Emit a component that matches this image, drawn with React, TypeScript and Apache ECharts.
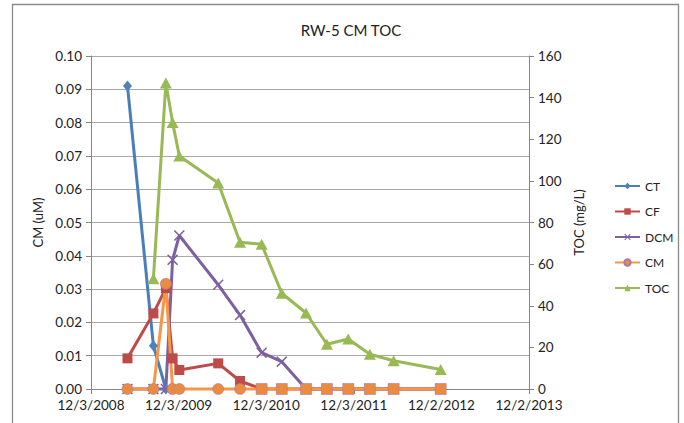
import React, { useEffect, useRef } from "react";
import * as echarts from "echarts";

// ---- data ----
const AXIS_START = "2008-12-03";
const AXIS_DAYS = 1825; // to 12/2/2013
const TICK_DAYS = 365;

const SAMPLE_DATES = [
  "2009-05-04", "2009-08-20", "2009-10-11", "2009-11-08", "2009-12-06",
  "2010-05-17", "2010-08-16", "2010-11-14", "2011-02-06", "2011-05-18",
  "2011-08-13", "2011-11-10", "2012-02-08", "2012-05-17", "2012-11-29",
];

const CT = [0.091, 0.013, 0];
const CF = [0.0092, 0.0227, 0.0303, 0.0092, 0.0057, 0.0077, 0.0024, 0, 0, 0, 0, 0, 0, 0, 0];
const DCM = [0, 0, 0, 0.0388, 0.0461, 0.0313, 0.0222, 0.0109, 0.0082, 0, 0, 0, 0, 0, 0];
const CM = [0, 0, 0.0316, 0, 0, 0, 0, 0, 0, 0, 0, 0, 0, 0, 0];
const TOC = [null, 53, 147, 128, 112, 99, 70.5, 69.5, 46, 36.5, 21.5, 24, 16.7, 13.6, 9.4];

const SERIES_NAMES = ["CT", "CF", "DCM", "CM", "TOC"];
const LEFT_TICKS = { min: 0, max: 0.1, interval: 0.01 };
const RIGHT_TICKS = { min: 0, max: 160, interval: 20 };

const DAY_MS = 86400000;
const startMs = Date.parse(AXIS_START + "T00:00:00Z");
const toDay = (iso: string) => Math.round((Date.parse(iso + "T00:00:00Z") - startMs) / DAY_MS);
const pairs = (vals: (number | null)[]) =>
  vals.map((v, i) => [toDay(SAMPLE_DATES[i]), v]).filter((p) => p[1] !== null);
const fmtDate = (days: number) => {
  const d = new Date(startMs + Math.round(days) * DAY_MS);
  return `${d.getUTCMonth() + 1}/${d.getUTCDate()}/${d.getUTCFullYear()}`;
};

const FONT = "Lato, 'Liberation Sans', sans-serif";
const XMARK = "path://M1,0L5,4L9,0L10,1L6,5L10,9L9,10L5,6L1,10L0,9L4,5L0,1Z";

export default function App() {
  const ref = useRef<HTMLDivElement>(null);
  useEffect(() => {
    if (!ref.current) return;
    const chart = echarts.init(ref.current, undefined, { renderer: "svg" });
    const axisLine = { show: true, lineStyle: { color: "#868686", width: 1 } };
    const axisTick = { show: true, inside: false, length: 5, lineStyle: { color: "#868686" } };
    const label = { color: "#222", fontSize: 13.5, fontFamily: FONT };
    chart.setOption({
      animation: false,
      backgroundColor: "#fff",
      textStyle: { fontFamily: FONT },
      title: {
        text: "RW-5 CM TOC",
        left: 346,
        textAlign: "center",
        top: 17,
        textStyle: { fontSize: 15, fontWeight: "normal", color: "#222", fontFamily: FONT },
      },
      graphic: [
        {
          type: "rect",
          silent: true,
          shape: { x: 12.5, y: 4.5, width: 666, height: 440 },
          style: { fill: "none", stroke: "#8a8a8a", lineWidth: 1.3 },
        },
      ],
      legend: {
        orient: "vertical",
        left: 609,
        top: 174,
        itemWidth: 25,
        itemHeight: 8,
        itemGap: 11.5,
        textStyle: { fontSize: 12, color: "#222", fontFamily: FONT, lineHeight: 14 },
        data: SERIES_NAMES,
      },
      grid: { left: 91, right: 155, top: 56, bottom: 34 },
      xAxis: {
        type: "value",
        min: 0,
        max: AXIS_DAYS,
        interval: TICK_DAYS,
        axisLine,
        axisTick,
        splitLine: { show: false },
        axisLabel: { ...label, margin: 9, formatter: (v: number) => fmtDate(v), showMinLabel: true, showMaxLabel: true },
      },
      yAxis: [
        {
          type: "value",
          ...LEFT_TICKS,
          name: "CM (uM)",
          nameLocation: "middle",
          nameRotate: 90,
          nameGap: 43,
          nameTextStyle: { fontSize: 13, color: "#222", fontFamily: FONT },
          axisLine,
          axisTick,
          splitLine: { show: true, lineStyle: { color: "#a9a9a9", width: 1 } },
          axisLabel: { ...label, margin: 9, formatter: (v: number) => v.toFixed(2) },
        },
        {
          type: "value",
          ...RIGHT_TICKS,
          position: "right",
          name: "TOC (mg/L)",
          nameLocation: "middle",
          nameRotate: 90,
          nameGap: 41,
          nameTextStyle: { fontSize: 13, color: "#222", fontFamily: FONT },
          axisLine,
          axisTick,
          splitLine: { show: false },
          axisLabel: { ...label, margin: 9 },
        },
      ],
      series: [
        {
          name: "CT",
          type: "line",
          clip: false,
          data: pairs(CT),
          symbol: "diamond",
          symbolSize: [9, 11],
          lineStyle: { color: "#4A7EBB", width: 3 },
          itemStyle: { color: "#4F81BD" },
        },
        {
          name: "CF",
          type: "line",
          clip: false,
          data: pairs(CF),
          symbol: "rect",
          symbolSize: 10,
          lineStyle: { color: "#BE4B48", width: 3 },
          itemStyle: { color: "#BE4B48" },
        },
        {
          name: "DCM",
          type: "line",
          clip: false,
          data: pairs(DCM),
          symbol: XMARK,
          symbolSize: 11,
          lineStyle: { color: "#7D60A0", width: 3 },
          itemStyle: { color: "#7D60A0" },
        },
        {
          name: "CM",
          type: "line",
          clip: false,
          data: pairs(CM),
          symbol: (_v: any, p: any) => (p && p.dataIndex >= 7 ? "rect" : "circle"),
          symbolSize: 11,
          lineStyle: { color: "#F79646", width: 3 },
          itemStyle: { color: "#EC8B3F", borderColor: "#a07fae", borderWidth: 0.6 },
        },
        {
          name: "TOC",
          type: "line",
          clip: false,
          yAxisIndex: 1,
          data: pairs(TOC),
          symbol: "triangle",
          symbolSize: [12, 11],
          lineStyle: { color: "#98B954", width: 3 },
          itemStyle: { color: "#98B954" },
        },
      ],
    });
    return () => chart.dispose();
  }, []);
  return (
    <div
      ref={ref}
      style={{ position: "fixed", left: 0, top: 0, width: 684, height: 423, background: "#fff" }}
    />
  );
}
